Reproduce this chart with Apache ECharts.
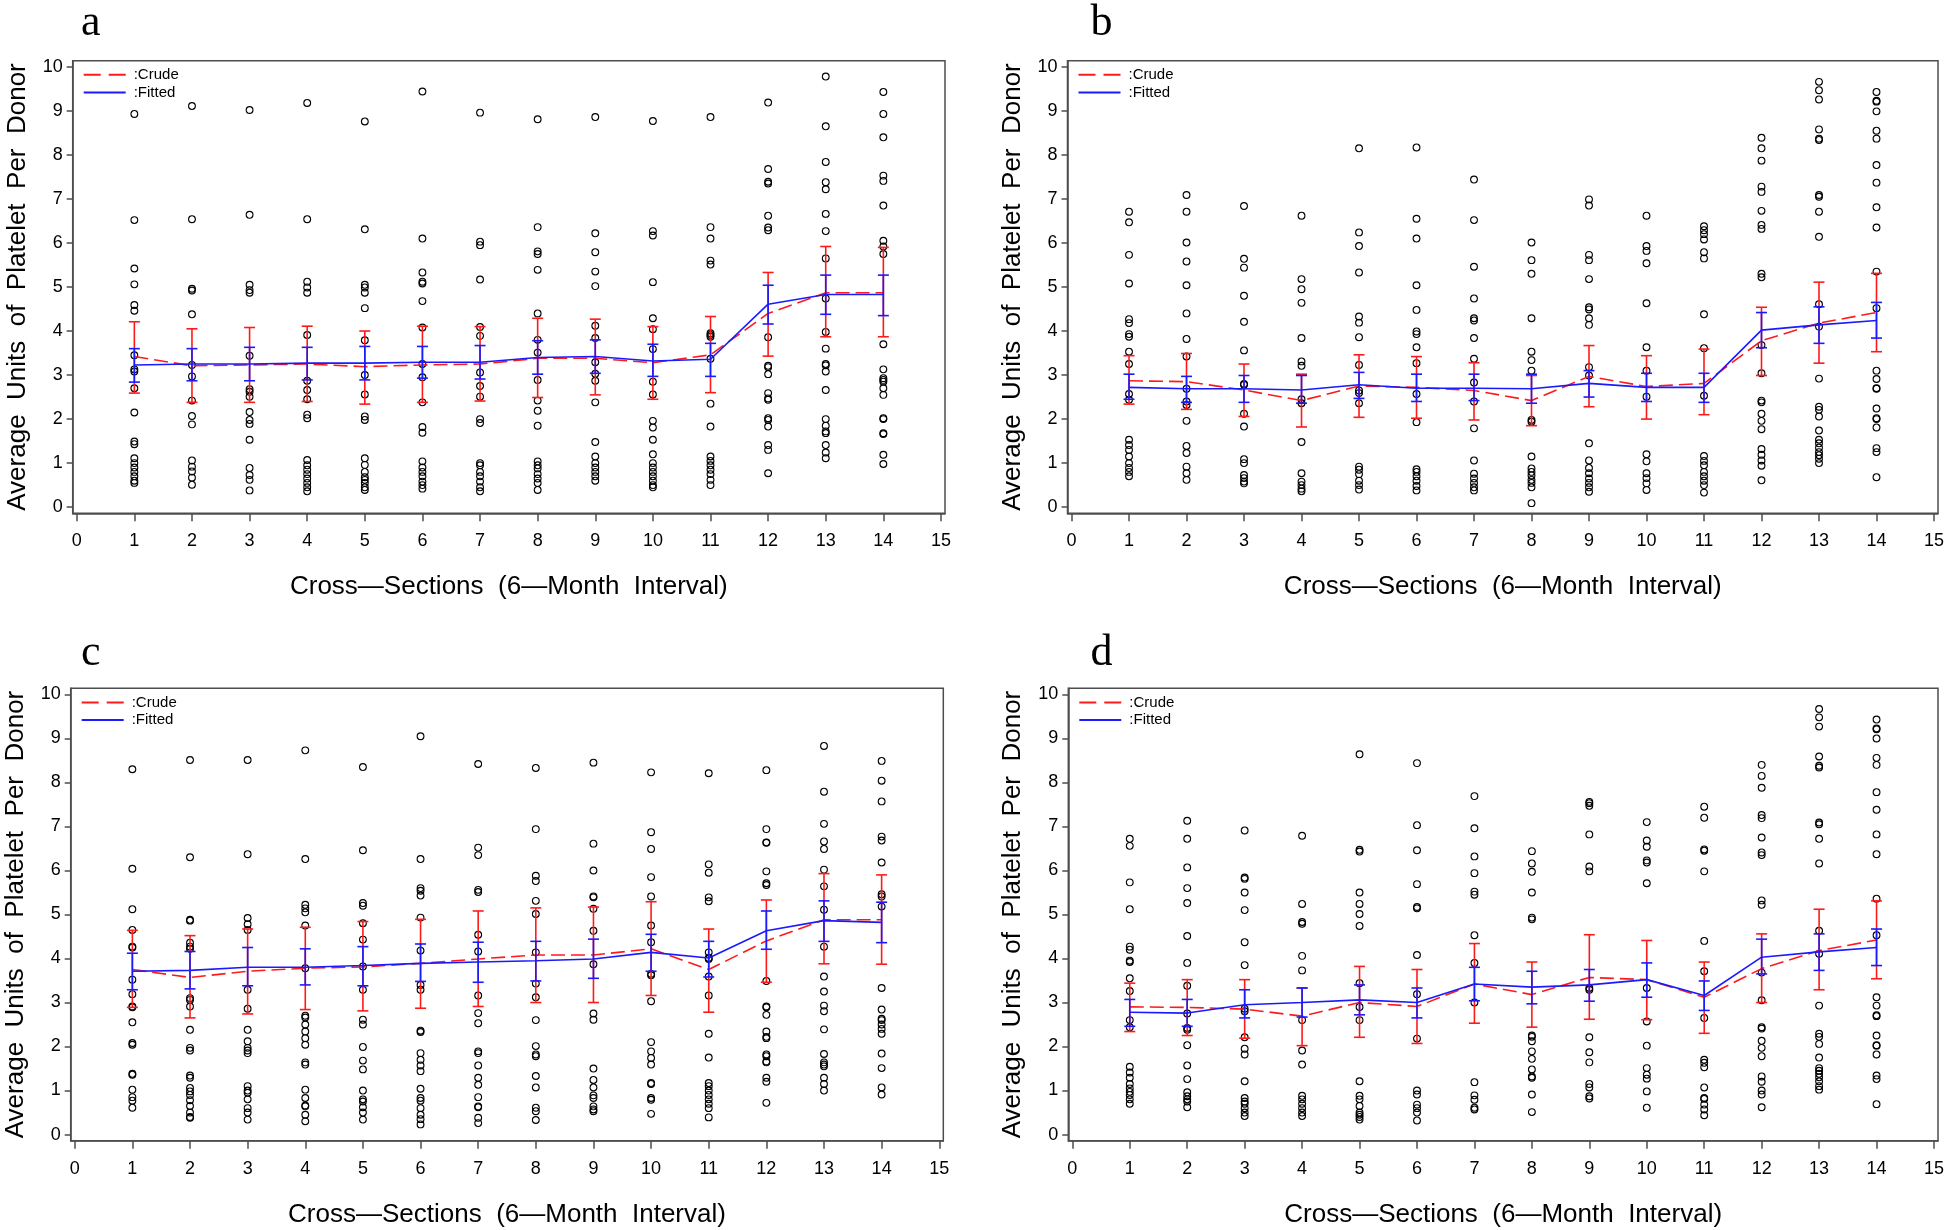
<!DOCTYPE html>
<html><head><meta charset="utf-8">
<script src="https://cdn.jsdelivr.net/npm/echarts@6/dist/echarts.min.js"></script>
<style>html,body{margin:0;padding:0;background:#fff}#c{width:1947px;height:1230px}</style>
</head><body><div id="c"></div><script>
// ---------- data ----------
const xTicks = [0,1,2,3,4,5,6,7,8,9,10,11,12,13,14,15];
const yTicks = [0,1,2,3,4,5,6,7,8,9,10];
const sections = [1,2,3,4,5,6,7,8,9,10,11,12,13,14];
const panelLabels = ['a','b','c','d'];

const ptsA = [
 [8.93,6.52,5.42,5.06,4.59,4.46,3.45,3.13,3.08,2.70,2.15,1.49,1.43,1.11,1.0,0.9,0.8,0.7,0.6,0.55],
 [9.11,6.54,4.96,4.92,4.38,3.23,2.97,2.42,2.07,1.88,1.06,0.92,0.81,0.67,0.51],
 [9.02,6.64,5.05,4.93,4.87,3.44,2.68,2.62,2.51,2.16,1.98,1.89,1.53,0.89,0.73,0.62,0.38],
 [9.18,6.54,5.12,4.99,4.87,3.91,2.87,2.66,2.45,2.10,2.02,1.07,0.95,0.85,0.75,0.65,0.55,0.45,0.36],
 [8.76,6.31,5.05,4.99,4.87,4.52,3.79,3.00,2.56,2.06,1.98,1.11,0.96,0.80,0.68,0.62,0.55,0.45,0.39],
 [9.44,6.10,5.33,5.12,5.08,4.68,4.08,3.25,2.95,2.38,1.82,1.69,1.04,0.90,0.80,0.70,0.58,0.50,0.42],
 [8.96,6.03,5.95,5.17,4.09,3.89,3.06,2.75,2.51,2.00,1.91,1.00,0.95,0.80,0.70,0.58,0.45,0.36],
 [8.81,6.36,5.81,5.75,5.39,4.40,3.80,3.51,2.89,2.42,2.19,1.85,1.04,0.95,0.88,0.75,0.65,0.55,0.39],
 [8.86,6.22,5.79,5.35,5.02,4.12,3.84,3.29,3.03,2.87,2.38,1.48,1.15,1.00,0.90,0.80,0.70,0.60],
 [8.77,6.27,6.17,5.11,4.29,4.04,3.59,2.85,2.56,1.96,1.81,1.53,1.20,1.00,0.90,0.80,0.70,0.60,0.50,0.45],
 [8.86,6.36,6.10,5.60,5.51,3.95,3.91,3.87,3.37,2.35,1.83,1.15,1.05,0.95,0.85,0.75,0.62,0.50],
 [9.19,7.68,7.39,7.35,6.62,6.35,6.29,3.86,3.21,3.18,3.02,2.59,2.47,2.44,2.02,1.98,1.83,1.41,1.30,0.77],
 [9.78,8.65,7.84,7.38,7.22,6.66,6.27,5.65,4.74,3.98,3.60,3.25,3.22,3.08,2.66,2.00,1.85,1.72,1.68,1.41,1.24,1.11],
 [9.43,8.93,8.40,7.53,7.41,6.85,6.05,5.92,5.75,3.70,3.13,2.93,2.89,2.85,2.70,2.55,2.02,2.00,1.68,1.66,1.19,0.98]
];
const crudeA   = [3.42,3.21,3.23,3.25,3.19,3.23,3.25,3.38,3.38,3.28,3.46,4.40,4.87,4.87];
const crudeLoA = [2.59,2.38,2.38,2.40,2.34,2.38,2.41,2.49,2.55,2.45,2.60,3.43,3.87,3.87];
const crudeHiA = [4.21,4.05,4.08,4.11,4.00,4.11,4.10,4.29,4.27,4.10,4.33,5.33,5.92,5.90];
const fitA     = [3.23,3.25,3.25,3.27,3.27,3.29,3.29,3.40,3.42,3.32,3.36,4.61,4.83,4.83];
const fitLoA   = [2.84,2.87,2.87,2.89,2.89,2.93,2.91,3.02,3.04,2.97,2.97,4.16,4.38,4.35];
const fitHiA   = [3.60,3.60,3.63,3.63,3.65,3.65,3.67,3.78,3.80,3.70,3.72,5.04,5.27,5.27];

const ptsB = [
 [6.71,6.47,5.73,5.08,4.27,4.18,3.93,3.87,3.53,3.25,2.57,2.44,1.53,1.41,1.30,1.15,1.00,0.89,0.80,0.70],
 [7.09,6.71,6.01,5.58,5.04,4.40,3.82,3.42,2.69,2.40,2.32,1.96,1.39,1.23,0.92,0.77,0.62],
 [6.84,5.64,5.44,4.80,4.21,3.56,2.80,2.78,2.12,1.83,1.09,1.00,0.73,0.66,0.58,0.54],
 [6.62,5.18,4.95,4.64,3.84,3.31,3.21,2.45,2.36,1.48,0.77,0.58,0.50,0.42,0.36],
 [8.15,6.24,5.93,5.33,4.33,4.19,3.86,3.23,2.65,2.59,2.36,0.92,0.85,0.75,0.60,0.50,0.40],
 [8.17,6.55,6.10,5.04,4.48,3.99,3.93,3.63,3.27,2.57,1.93,0.86,0.80,0.70,0.60,0.48,0.38],
 [7.44,6.52,5.46,4.74,4.29,4.24,3.84,3.37,2.83,2.40,1.79,1.06,0.76,0.65,0.55,0.45,0.38],
 [6.01,5.61,5.30,4.29,3.53,3.34,3.10,1.98,1.94,1.15,0.88,0.80,0.72,0.62,0.55,0.45,0.09],
 [6.99,6.85,5.73,5.61,5.18,4.54,4.49,4.29,4.14,3.18,2.99,1.45,1.06,0.89,0.77,0.65,0.55,0.45,0.35],
 [6.62,5.93,5.82,5.54,4.63,3.63,3.10,2.51,1.20,1.04,0.77,0.66,0.54,0.39],
 [6.38,6.29,6.20,6.08,5.79,5.65,4.38,3.61,2.53,1.16,1.05,0.95,0.80,0.70,0.60,0.50,0.33],
 [8.39,8.15,7.87,7.28,7.16,6.73,6.41,6.32,5.30,5.22,3.68,3.04,2.42,2.38,2.12,1.96,1.77,1.32,1.19,1.06,0.94,0.61],
 [9.66,9.47,9.26,8.58,8.37,8.34,7.09,7.05,6.71,6.14,4.61,4.10,2.92,2.28,2.21,2.06,1.74,1.53,1.45,1.35,1.25,1.18,1.10,1.00],
 [9.43,9.23,9.21,8.99,8.55,8.37,7.77,7.37,6.81,6.35,5.35,4.52,3.10,2.91,2.70,2.69,2.24,2.02,2.00,1.81,1.34,1.25,0.68]
];
const crudeB   = [2.87,2.85,2.66,2.42,2.75,2.72,2.65,2.42,2.97,2.74,2.81,3.78,4.18,4.42];
const crudeLoB = [2.34,2.22,2.06,1.82,2.04,2.02,1.98,1.85,2.28,2.00,2.10,2.99,3.27,3.53];
const crudeHiB = [3.44,3.49,3.25,3.02,3.46,3.42,3.28,2.99,3.67,3.44,3.59,4.54,5.11,5.31];
const fitB     = [2.72,2.69,2.69,2.66,2.78,2.70,2.70,2.69,2.81,2.72,2.72,4.02,4.14,4.24];
const fitLoB   = [2.45,2.38,2.38,2.36,2.47,2.40,2.42,2.36,2.50,2.40,2.38,3.62,3.72,3.84];
const fitHiB   = [3.02,2.97,2.99,2.99,3.06,3.02,3.02,3.02,3.10,3.04,3.04,4.42,4.55,4.65];

const ptsC = [
 [8.30,6.04,5.12,4.65,4.27,4.25,3.52,3.19,2.91,2.89,2.55,2.08,2.04,1.38,1.36,1.02,0.85,0.77,0.61],
 [8.51,6.30,4.88,4.86,4.36,4.27,4.22,3.10,3.06,2.91,2.38,1.97,1.91,1.34,1.29,1.06,0.98,0.90,0.78,0.65,0.50,0.40,0.38],
 [8.51,6.37,4.92,4.78,4.65,3.29,2.86,2.38,2.12,1.97,1.91,1.85,1.10,1.00,0.95,0.80,0.60,0.50,0.34],
 [8.73,6.26,5.22,5.14,5.05,4.75,3.78,2.70,2.66,2.50,2.34,2.19,2.04,1.64,1.59,1.02,0.83,0.66,0.64,0.45,0.30],
 [8.35,6.46,5.26,5.20,4.80,4.43,3.82,3.29,2.61,2.50,1.99,1.68,1.48,1.00,0.80,0.75,0.62,0.50,0.34],
 [9.05,6.26,5.60,5.54,5.43,4.93,4.18,3.40,3.29,2.36,2.33,1.85,1.70,1.57,1.44,1.04,0.83,0.77,0.60,0.45,0.35,0.23],
 [8.42,6.52,6.35,5.56,5.51,4.54,4.16,3.16,2.76,2.53,1.89,1.85,1.57,1.29,1.13,0.85,0.64,0.62,0.38,0.26],
 [8.33,6.94,5.88,5.76,5.31,5.01,4.14,3.43,3.12,2.60,2.01,1.82,1.78,1.33,1.07,0.61,0.53,0.33],
 [8.45,6.61,6.00,5.41,5.39,5.13,4.63,3.87,2.75,2.61,1.50,1.24,1.07,0.89,0.83,0.64,0.57,0.53],
 [8.23,6.87,6.49,5.85,5.41,4.75,4.37,3.65,3.62,3.03,2.10,1.89,1.74,1.59,1.17,1.15,0.83,0.79,0.47],
 [8.21,6.14,5.95,5.39,5.30,4.14,4.01,3.99,3.59,3.16,2.29,1.75,1.17,1.10,1.00,0.90,0.80,0.70,0.60,0.39],
 [8.28,6.94,6.64,6.63,5.98,5.71,5.67,3.49,2.91,2.89,2.72,2.34,2.22,2.19,1.82,1.78,1.66,1.64,1.29,1.20,0.72],
 [8.83,7.79,7.06,6.66,6.49,6.02,5.64,5.11,4.27,3.59,3.25,2.93,2.80,2.39,1.83,1.64,1.59,1.55,1.29,1.15,1.00],
 [8.49,8.04,7.57,6.77,6.68,6.18,5.46,5.41,5.18,3.33,2.84,2.63,2.60,2.50,2.40,2.29,1.84,1.51,1.07,0.91]
];
const crudeC   = [3.75,3.57,3.71,3.78,3.81,3.89,3.99,4.08,4.08,4.22,3.75,4.40,4.88,4.88];
const crudeLoC = [2.89,2.65,2.74,2.84,2.81,2.87,2.91,3.00,3.00,3.16,2.78,3.46,3.88,3.87];
const crudeHiC = [4.64,4.52,4.67,4.71,4.84,4.89,5.08,5.15,5.17,5.29,4.67,5.33,5.93,5.90];
const fitC     = [3.71,3.73,3.80,3.80,3.84,3.89,3.92,3.95,3.99,4.14,4.01,4.63,4.86,4.82];
const fitLoC   = [3.29,3.31,3.38,3.40,3.38,3.48,3.46,3.49,3.55,3.71,3.58,4.21,4.39,4.36];
const fitHiC   = [4.12,4.16,4.25,4.22,4.27,4.33,4.37,4.39,4.44,4.55,4.39,5.08,5.31,5.28];

const ptsD = [
 [6.72,6.56,5.73,5.12,4.27,4.20,3.95,3.92,3.55,3.26,2.60,2.44,1.54,1.41,1.29,1.15,1.05,0.97,0.90,0.80,0.70],
 [7.13,6.72,6.07,5.60,5.26,4.51,3.90,3.38,2.75,2.42,2.38,2.03,1.57,1.26,0.96,0.87,0.80,0.75,0.62],
 [6.91,5.84,5.81,5.50,5.10,4.37,3.85,2.86,2.80,2.21,1.95,1.82,1.21,0.83,0.75,0.70,0.60,0.50,0.42],
 [6.79,5.24,4.83,4.79,4.06,3.73,2.60,1.91,1.59,0.88,0.80,0.70,0.60,0.50,0.42],
 [8.64,6.47,6.43,5.50,5.24,5.01,4.74,3.44,2.90,2.60,1.21,0.88,0.80,0.65,0.50,0.45,0.40,0.34],
 [8.44,7.03,6.46,5.69,5.17,5.14,4.08,3.19,2.18,1.00,0.91,0.68,0.60,0.50,0.32],
 [7.69,6.96,6.32,5.94,5.52,5.45,4.53,3.90,3.00,1.19,0.89,0.79,0.61,0.57],
 [6.44,6.16,5.97,5.50,4.93,4.89,2.25,2.22,2.12,1.89,1.72,1.48,1.32,1.29,0.91,0.51],
 [7.56,7.53,7.47,6.82,6.09,5.98,3.33,3.29,2.21,1.87,1.64,1.15,1.07,0.87,0.82],
 [7.10,6.68,6.54,6.23,6.18,5.71,3.33,2.57,2.02,1.51,1.36,1.27,0.98,0.61],
 [7.45,7.20,6.48,6.45,5.98,4.40,3.71,2.65,1.70,1.63,1.53,1.07,0.83,0.81,0.68,0.57,0.44],
 [8.40,8.15,7.88,7.26,7.19,6.75,6.41,6.35,5.32,5.22,3.68,3.05,2.44,2.41,2.13,1.97,1.78,1.32,1.20,1.00,0.91,0.62],
 [9.67,9.48,9.27,8.59,8.38,8.34,7.09,7.05,6.72,6.16,4.63,4.11,2.93,2.29,2.22,2.06,1.75,1.51,1.45,1.38,1.30,1.21,1.10,1.02],
 [9.43,9.23,9.21,9.00,8.56,8.40,7.78,7.38,6.82,6.37,5.36,4.53,3.12,2.93,2.71,2.69,2.25,2.03,2.02,1.82,1.34,1.26,0.69]
];
const crudeD   = [2.90,2.89,2.85,2.69,3.00,2.91,3.42,3.18,3.57,3.52,3.12,3.77,4.18,4.42];
const crudeLoD = [2.34,2.25,2.19,2.02,2.21,2.07,2.53,2.44,2.62,2.61,2.30,3.00,3.29,3.54];
const crudeHiD = [3.44,3.52,3.52,3.33,3.82,3.75,4.34,3.92,4.54,4.41,3.92,4.56,5.12,5.31];
const fitD     = [2.78,2.76,2.95,3.00,3.06,3.00,3.42,3.35,3.40,3.52,3.16,4.03,4.15,4.25];
const fitLoD   = [2.46,2.46,2.65,2.67,2.72,2.65,3.04,2.97,3.03,3.12,2.82,3.65,3.73,3.84];
const fitHiD   = [3.07,3.07,3.29,3.33,3.40,3.33,3.80,3.71,3.75,3.90,3.49,4.44,4.56,4.67];

// ---------- layout / styling ----------
const FONT = '"Liberation Sans", Arial, Helvetica, sans-serif';
const AX = '#4d4d4d';
const RED = '#ff1a1a';
const BLUE = '#1a1aff';
const xName = 'Cross\u2014Sections  (6\u2014Month  Interval)';
const yName = 'Average  Units  of  Platelet  Per  Donor';

const panelData = [
  {pts: ptsA, c: crudeA, cLo: crudeLoA, cHi: crudeHiA, f: fitA, fLo: fitLoA, fHi: fitHiA},
  {pts: ptsB, c: crudeB, cLo: crudeLoB, cHi: crudeHiB, f: fitB, fLo: fitLoB, fHi: fitHiB},
  {pts: ptsC, c: crudeC, cLo: crudeLoC, cHi: crudeHiC, f: fitC, fLo: fitLoC, fHi: fitHiC},
  {pts: ptsD, c: crudeD, cLo: crudeLoD, cHi: crudeHiD, f: fitD, fLo: fitLoD, fHi: fitHiD}
];
const gridBoxes = [
  {left: 72.7,   top: 60.7,  width: 872.3, height: 452.6},
  {left: 1067.5, top: 60.7,  width: 873.0, height: 452.6},
  {left: 70.7,   top: 688.3, width: 872.6, height: 452.4},
  {left: 1068.3, top: 688.3, width: 872.7, height: 452.4}
];
const titlePos = [[90.7, 23], [1101.5, 23], [90.7, 653], [1101.5, 653]];

function errBar(color) {
  return function (params, api) {
    const x = api.value(0), lo = api.value(1), hi = api.value(2);
    const pHi = api.coord([x, hi]), pLo = api.coord([x, lo]);
    const w = 5.5;
    const st = {stroke: color, lineWidth: 1.6};
    return {type: 'group', children: [
      {type: 'line', shape: {x1: pHi[0], y1: pHi[1], x2: pLo[0], y2: pLo[1]}, style: st},
      {type: 'line', shape: {x1: pHi[0] - w, y1: pHi[1], x2: pHi[0] + w, y2: pHi[1]}, style: st},
      {type: 'line', shape: {x1: pLo[0] - w, y1: pLo[1], x2: pLo[0] + w, y2: pLo[1]}, style: st}
    ]};
  };
}

const grids = [], xAxes = [], yAxes = [], series = [], legends = [], graphics = [];
panelData.forEach((p, i) => {
  const g = gridBoxes[i];
  grids.push(Object.assign({show: true, borderColor: AX, borderWidth: 1.5, backgroundColor: 'transparent', containLabel: false}, g));
  xAxes.push({
    gridIndex: i, type: 'value', min: -0.07, max: 15.07,
    axisLine: {show: true, onZero: false, lineStyle: {color: AX, width: 1.5}},
    axisTick: {show: true, length: 8, customValues: xTicks, lineStyle: {color: AX, width: 1.5}},
    axisLabel: {customValues: xTicks, margin: 19, fontSize: 18, color: '#000', fontFamily: FONT},
    splitLine: {show: false},
    name: xName, nameLocation: 'middle', nameGap: 61,
    nameTextStyle: {fontSize: 26, color: '#000', fontFamily: FONT}
  });
  yAxes.push({
    gridIndex: i, type: 'value', min: -0.14, max: 10.14,
    axisLine: {show: true, onZero: false, lineStyle: {color: AX, width: 1.5}},
    axisTick: {show: true, length: 6, customValues: yTicks, lineStyle: {color: AX, width: 1.5}},
    axisLabel: {customValues: yTicks, margin: 10, fontSize: 18, color: '#000', fontFamily: FONT},
    splitLine: {show: false},
    name: yName, nameLocation: 'middle', nameGap: 42,
    nameTextStyle: {fontSize: 26, color: '#000', fontFamily: FONT}
  });
  const scat = [];
  p.pts.forEach((arr, k) => arr.forEach(v => scat.push([sections[k], v])));
  series.push({
    type: 'scatter', name: 'donor', xAxisIndex: i, yAxisIndex: i, data: scat,
    symbol: 'circle', symbolSize: 6.8, silent: true, z: 2,
    itemStyle: {color: 'rgba(0,0,0,0)', borderColor: '#000', borderWidth: 1.1, opacity: 1}
  });
  series.push({
    type: 'custom', name: 'crudeCI', xAxisIndex: i, yAxisIndex: i, z: 3, silent: true,
    renderItem: errBar(RED), encode: {x: 0, y: [1, 2]},
    data: sections.map((x, k) => [x, p.cLo[k], p.cHi[k]])
  });
  series.push({
    type: 'line', name: ':Crude', xAxisIndex: i, yAxisIndex: i, z: 4, silent: true,
    data: sections.map((x, k) => [x, p.c[k]]), symbol: 'none', showSymbol: false,
    itemStyle: {color: RED},
    lineStyle: {color: RED, width: 1.6, type: [14, 6]}
  });
  series.push({
    type: 'custom', name: 'fitCI', xAxisIndex: i, yAxisIndex: i, z: 5, silent: true,
    renderItem: errBar(BLUE), encode: {x: 0, y: [1, 2]},
    data: sections.map((x, k) => [x, p.fLo[k], p.fHi[k]])
  });
  series.push({
    type: 'line', name: ':Fitted', xAxisIndex: i, yAxisIndex: i, z: 6, silent: true,
    data: sections.map((x, k) => [x, p.f[k]]), symbol: 'none', showSymbol: false,
    itemStyle: {color: BLUE},
    lineStyle: {color: BLUE, width: 1.6, type: 'solid'}
  });
  legends.push({
    data: [
      {name: ':Crude', lineStyle: {type: [17, 8]}},
      {name: ':Fitted', lineStyle: {type: 'solid'}}
    ],
    orient: 'vertical',
    left: g.left + 10, top: g.top + 6.6, padding: 0,
    itemWidth: 42, itemHeight: 14, itemGap: 2.7, selectedMode: false,
    itemStyle: {opacity: 0, color: 'rgba(0,0,0,0)', borderWidth: 0},
    textStyle: {fontSize: 15, color: '#000', fontFamily: FONT, padding: [5, 0, 0, 3]}
  });
  graphics.push({
    type: 'text', x: titlePos[i][0], y: titlePos[i][1],
    style: {text: panelLabels[i], font: '44px "Liberation Serif", "Times New Roman", serif',
            fill: '#000', textAlign: 'center', textVerticalAlign: 'middle'}
  });
});

const chart = echarts.init(document.getElementById('c'), null, {renderer: 'canvas'});
chart.setOption({
  animation: false,
  backgroundColor: '#fff',
  grid: grids, xAxis: xAxes, yAxis: yAxes,
  legend: legends, series: series, graphic: graphics
});
</script></body></html>
